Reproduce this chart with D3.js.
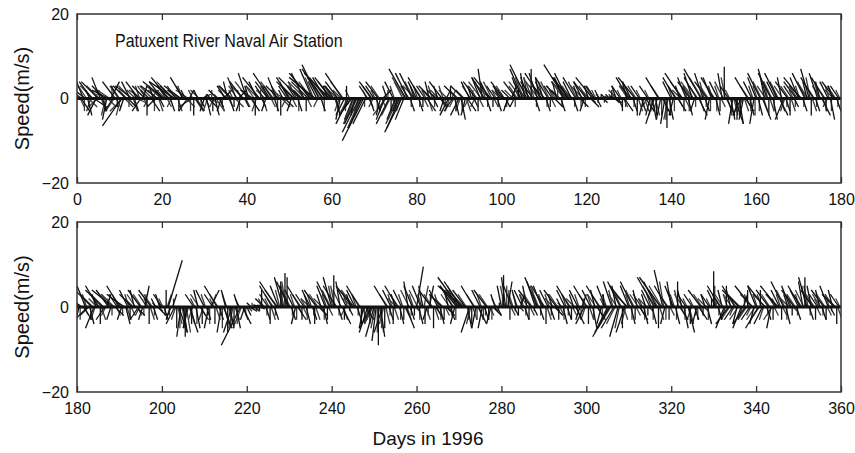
<!DOCTYPE html>
<html>
<head>
<meta charset="utf-8">
<script src="https://cdn.jsdelivr.net/npm/d3@7"></script>
<style>
  body { margin: 0; background: #fff; }
  text { font-family: Arial, "Liberation Sans", sans-serif; fill: #111; }
</style>
</head>
<body>
<svg id="chart" width="855" height="453"></svg>
<script>
// wind sticks, [u, v] in m/s
// main sticks every 12 h from 00h, filler sticks every 12 h from 06h
const stepDays = 0.5;
const speedTop = [
  [-1,3],[-3,4],[2,-3],[-2,5],[-4,3],[1,-4],[-1,2],[-3,4],[3,-2],[-2,-4],
  [-4,4],[-2,5],[1,-3],[-3,3],[-1,-5],[-4,2],[2,4],[-2,-3],[-3,4],[0,-2],
  [-2,3],[-4.5,-6.5],[-1,-3],[-3,3],[2,-2],[-2,4],[-4,3],[1,-3],[-1,2],[-3,4],
  [-2,-3],[1,3],[-3,3],[0,-4],[-2,2],[2,-3],[-1,3],[-2,-2],[-4,3],[1,-2],
  [-3,4],[-5,4],[-2,3],[-4,5],[1,-3],[-3,3],[-6,4],[-2,2],[0,-3],[-4,3],
  [-3,5],[-1,2],[-2,-3],[1,2],[-3,-2],[0,-4],[2,-3],[-1,2],[1,-2],[2,1],
  [-1,-3],[1,-4],[2,-2],[-1,1],[0,-3],[1,-4],[-2,2],[1,-2],[-1,-3],[2,2],
  [-2,3],[-1,4],[1,-3],[-3,3],[0,-2],[-2,5],[2,2],[-1,-3],[-3,4],[1,-2],
  [-2,6],[-1,3],[2,-3],[-3,2],[0,-4],[-2,4],[-4,5],[1,-2],[-2,3],[-1,-3],
  [-3,4],[-4,6],[-2,3],[1,-3],[-2,5],[-3,3],[0,-4],[-1,2],[2,-2],[-2,3],
  [-3,5],[-1,-3],[-4,4],[-2,3],[1,-3],[-5,5],[-2,2],[-3,6],[0,-3],[-4,4],
  [-5,6],[-3,7],[-6,5],[-2,4],[-4,8],[1,-3],[-5,7],[-3,5],[-1,3],[-6,6],
  [-4,5],[-2,3],[1,-4],[-3,4],[-1,-5],[-4,6],[-2,-4],[0,3],[-3,-6],[-2,-3],
  [-2,-5],[-1,-4],[-3,-6],[-4,-8],[-3,-7],[-5,-10],[-3,-6],[-2,3],[1,-3],[-3,4],
  [-2,3],[1,-3],[-3,4],[-1,-4],[2,2],[-2,-5],[-1,3],[-3,-6],[0,-3],[-2,4],
  [-2,-5],[-1,-3],[-3,-7],[-4,-8],[-2,-5],[-4,7],[-3,6],[1,-3],[-3,6],[-1,3],
  [-2,4],[1,-3],[-3,5],[0,-2],[-2,3],[2,-3],[-1,4],[-3,3],[1,-2],[-2,2],
  [-1,3],[2,-2],[-3,4],[-1,-3],[1,2],[-2,-4],[0,3],[-2,-3],[1,-4],[-3,3],
  [-2,-4],[1,-5],[-3,3],[-1,-4],[2,-3],[-2,4],[-1,3],[1,-2],[-3,4],[0,-3],
  [-2,5],[-1,7],[-3,5],[1,-3],[-2,4],[-4,5],[0,-2],[-2,3],[1,-3],[-1,2],
  [-2,3],[-3,4],[1,-2],[-1,-3],[-2,2],[1,3],[-1,-2],[-3,4],[0,2],[-2,5],
  [-3,7],[-1,6],[-4,8],[-2,5],[0,7],[-3,4],[1,-3],[-2,6],[-1,5],[-4,6],
  [-2,4],[1,-3],[-3,5],[0,-2],[-2,3],[2,-2],[-1,4],[-3,3],[1,-3],[-2,5],
  [-5,8],[-3,6],[-4,5],[-2,4],[1,-3],[-3,5],[-1,3],[2,-2],[-2,4],[-1,-3],
  [-3,4],[-1,3],[2,-2],[-4,5],[-2,3],[1,-2],[-1,2],[0,1],[1,-1],[-1,1],
  [1,0.5],[-1,1],[0,2],[2,-1],[-1,3],[1,-2],[-2,3],[0,-3],[2,-3],[-1,4],
  [-3,5],[-2,4],[1,-3],[-4,5],[0,-4],[-2,3],[1,-3],[-1,-4],[2,-3],[-2,3],
  [-1,-4],[1,-5],[-2,-6],[0,-4],[-3,5],[-1,-5],[2,-4],[-1,-6],[0,-7],[1,-5],
  [-2,4],[-1,-4],[-3,5],[2,-3],[-1,3],[-4,6],[0,-3],[-2,5],[1,-4],[-3,4],
  [-2,6],[-1,-3],[-3,5],[2,-4],[-4,7],[-2,6],[1,-3],[-3,4],[-1,-5],[-2,5],
  [-3,5],[1,-4],[-2,4],[0,-3],[-1,6],[0,7.5],[2,-4],[-2,3],[1,-5],[-1,-6],
  [2,-6],[0,-5],[1,-6],[-2,-4],[-1,-5],[2,-3],[-3,5],[1,-4],[-2,4],[-1,-6],
  [-2,5],[1,-4],[-3,6],[2,-5],[-1,5],[-2,7],[0,-4],[-3,6],[1,-5],[-2,4],
  [-3,6],[2,-4],[-1,5],[-2,-5],[1,-3],[-3,4],[0,-4],[-2,3],[1,-2],[-3,4],
  [-2,5],[-4,5],[1,-3],[-3,6],[-1,4],[-2,7],[0,-4],[-3,5],[1,-3],[-2,6],
  [-1,4],[2,-4],[-3,5],[0,-3],[-2,4],[1,-5],[-1,3],[-3,4],[1,-3],[-2,3]
];
const fillTop = [
  [-2,2],[1,-2],[-3,2],[0,-3],[-2,3],[2,-2],[-1,-3],[-3,3],[1,2],[-2,-2],
  [-3,3],[1,-3],[-2,2],[-1,-4],[2,-2],[-3,2],[0,3],[-2,-3],[1,-2],[-2,3],
  [-1,-4],[-3,-3],[2,-2],[-2,2],[0,-2],[-3,3],[1,-3],[-2,2],[2,-1],[-1,3],
  [-3,2],[1,-2],[-2,3],[-1,-2],[2,2],[-3,3],[0,-3],[-2,2],[1,-3],[-2,2],
  [-4,3],[-2,2],[1,-2],[-3,3],[-1,-2],[-4,4],[-2,3],[1,-3],[-3,2],[-1,3],
  [-2,3],[2,-2],[-3,2],[0,-3],[-1,2],[2,-3],[1,-2],[-2,2],[0,-2],[1,1],
  [1,-2],[-1,-3],[2,-1],[0,2],[-1,-2],[2,-3],[-1,1],[1,-3],[0,-2],[-1,2],
  [-2,2],[1,-2],[-3,3],[-1,2],[2,-2],[-2,3],[0,-3],[-1,2],[-3,3],[1,-2],
  [-3,4],[-2,2],[1,-2],[-2,3],[-1,-3],[-3,3],[0,2],[1,-3],[-2,2],[-1,3],
  [-2,3],[1,-2],[-3,4],[-1,2],[0,-3],[-2,3],[2,-2],[-3,2],[-1,-2],[-2,4],
  [-2,3],[1,-2],[-3,3],[-2,4],[0,-3],[-3,3],[-1,2],[-4,4],[1,-2],[-2,3],
  [-3,4],[-2,5],[-4,3],[-1,-2],[-3,5],[-2,3],[0,-3],[-4,5],[-2,2],[-3,4],
  [-2,3],[1,-3],[-3,3],[-1,-3],[-2,2],[-3,4],[0,-3],[-2,-4],[-1,2],[-3,-4],
  [-2,-5],[-3,-6],[-1,-4],[-3,-7],[-2,-3],[0,-2],[-1,2],[1,-2],[-2,3],[-1,-2],
  [-1,2],[0,-3],[-2,3],[1,-2],[-1,-3],[-3,-4],[0,2],[-2,-4],[1,-2],[-1,3],
  [-2,-5],[-3,-6],[-1,-3],[-2,4],[-3,5],[-1,3],[-2,3],[0,-2],[-2,4],[-3,3],
  [-1,3],[0,-2],[-2,3],[1,-2],[-1,2],[1,-3],[-2,2],[-1,3],[0,-2],[-1,1],
  [-2,2],[1,-2],[-1,3],[0,-2],[-2,2],[-1,-3],[1,2],[-1,-2],[0,-3],[-2,2],
  [-1,-3],[0,-3],[-2,2],[1,-3],[-1,-2],[-2,3],[0,2],[-1,-2],[-2,3],[1,-2],
  [-3,4],[-2,4],[-1,3],[0,-2],[-3,3],[-2,4],[1,-2],[-1,2],[0,-2],[-2,2],
  [-1,2],[-2,3],[0,-2],[-1,-2],[1,2],[-2,2],[0,-2],[-2,3],[-1,2],[-3,4],
  [-2,5],[-3,4],[-1,5],[-3,4],[-2,5],[-1,3],[0,-2],[-3,4],[-2,3],[-1,4],
  [-3,3],[0,-2],[-2,4],[1,-2],[-1,2],[-2,3],[0,3],[-2,2],[0,-2],[-3,4],
  [-3,5],[-4,4],[-2,3],[-3,3],[0,-2],[-2,4],[-1,2],[0,-2],[-3,3],[0,-2],
  [-2,3],[-2,2],[1,-1],[-2,3],[-1,2],[0,-1],[-1,1],[1,0.5],[0,-1],[1,0.5],
  [-1,0.5],[1,1],[-1,1],[1,-1],[-2,2],[0,-1],[-1,2],[1,-2],[0,-2],[-2,3],
  [-2,3],[-3,3],[0,-2],[-2,3],[1,-3],[-1,2],[0,-2],[1,-3],[-1,-2],[-1,2],
  [0,-3],[-1,-4],[1,-4],[-1,-3],[-2,3],[0,-4],[1,-3],[0,-5],[-1,-5],[0,-4],
  [-1,3],[0,-3],[-2,3],[1,-2],[-2,2],[-3,4],[1,-2],[-1,3],[0,-3],[-2,3],
  [-3,4],[0,-2],[-2,3],[1,-3],[-3,5],[-1,4],[0,-2],[-2,3],[0,-3],[-1,3],
  [-2,3],[0,-3],[-1,3],[1,-2],[-2,4],[-1,5],[1,-3],[-1,2],[0,-4],[1,-4],
  [1,-4],[-1,-4],[0,-4],[-1,-3],[1,-3],[1,-2],[-2,3],[0,-3],[-1,3],[0,-4],
  [-1,3],[0,-3],[-2,4],[1,-3],[-2,3],[-1,4],[1,-3],[-2,4],[0,-3],[-1,3],
  [-2,4],[1,-3],[-2,3],[-1,-3],[0,-2],[-2,3],[1,-3],[-1,2],[0,-2],[-2,3],
  [-1,3],[-3,3],[0,-2],[-2,4],[-2,3],[-1,5],[1,-3],[-2,3],[0,-2],[-1,4],
  [-2,3],[1,-3],[-2,3],[-1,-2],[-1,3],[0,-3],[-2,2],[-2,3],[0,-2],[-1,2]
];
const speedBottom = [
  [-3,4],[-1,-4],[-4,3],[2,-3],[-2,5],[-3,-3],[1,-4],[-4,4],[-2,-5],[-1,3],
  [-3,5],[0,-4],[-4,4],[-2,-3],[1,3],[-3,4],[-1,-3],[-5,4],[2,-2],[-2,3],
  [-3,5],[-1,-3],[-4,3],[1,-4],[-2,4],[0,-3],[-3,3],[-1,4],[2,-2],[-2,-3],
  [-3,4],[-1,-3],[1,5],[-2,3],[0,-4],[-3,4],[1,-3],[-1,2],[2,-2],[-1,3],
  [-2,3],[1,-3],[0,4],[3.3,11],[-1,-3],[1,3],[-2,-4],[0,-5],[2,-6],[-1,-7],
  [1,-6],[0,-7],[-1,-5],[2,-6],[0,-4],[-2,3],[1,-5],[-1,4],[2,-3],[0,-4],
  [-2,4],[1,-3],[-1,-5],[2,4],[-2,3],[0,-4],[-3,5],[1,-3],[-1,-6],[2,-5],
  [-1,4],[0,-6],[1,-5],[-2,-6],[0,-4],[1,-5],[-1,3],[-4.5,-9],[2,-4],[-1,-3],
  [1,-2],[2,-1],[-1,1],[2,0.5],[1,-1],[-1,0.5],[0,-1],[0,4],[-2,2],[1,-3],
  [-2,3],[0,-4],[-3,5],[1,-3],[-4,6],[-2,5],[0,6],[-2,7],[0,8],[0,7],
  [-3,6],[1,-3],[-2,4],[-1,-4],[2,-3],[-3,5],[0,-3],[-2,3],[1,-4],[-1,3],
  [-2,4],[1,-3],[0,-4],[-3,4],[2,-2],[-1,3],[1,-4],[-2,5],[0,-3],[-3,6],
  [-2,7],[0,7.5],[-3,5],[1,-3],[-1,6],[2,-4],[0,-3],[-2,4],[1,-2],[-1,3],
  [-4,5],[-2,4],[1,-3],[-3,5],[0,-4],[-1,-5],[2,-3],[-2,-6],[0,-4],[-3,-5],
  [-2,-7],[-1,-8],[0,-9],[1,-7],[-2,-6],[0,-5],[-3,5],[1,-3],[-2,4],[0,-4],
  [-1,3],[-3,5],[1,-4],[-2,4],[0,-3],[2,-5],[-1,6],[1,-3],[-2,5],[0,-2],
  [1.6,9.5],[1,-4],[-2,5],[-1,5],[0,-4],[-1,-3],[1,5],[-3,4],[0,-5],[2,-3],
  [-2,4],[1,-4],[-3,3],[0,-3],[2,-2],[-1,4],[1,-3],[-3,5],[-1,-4],[-4,5],
  [-5,7],[-4,6],[-6,5],[-3,4],[1,-5],[-2,-6],[0,-4],[-3,5],[-1,-5],[2,-4],
  [-2,4],[-1,-5],[1,-3],[-3,4],[0,-3],[-1,-4],[2,-2],[-1,3],[1,-2],[0,1],
  [-1,5],[0,7.5],[-1,7],[1,6],[0,-3],[-2,5],[1,-2],[-1,4],[0,-2],[1,3],
  [-2,4],[1,-3],[-1,5],[0,-3],[-3,4],[1,-2],[-2,6],[-3,7],[1,-3],[-2,5],
  [-3,5],[0,-4],[-2,4],[1,-3],[-1,3],[2,-2],[-3,4],[0,-3],[-1,2],[1,-4],
  [-2,4],[1,-3],[-3,5],[0,-3],[-1,3],[2,-4],[-2,4],[-1,-3],[1,3],[-2,-4],
  [-3,5],[0,-4],[-2,4],[1,-5],[-1,4],[2,-3],[-3,5],[-1,-4],[0,3],[-2,5],
  [-3,-6],[-4,-7],[-2,6],[-3,-5],[-1,5],[-2,-7],[-3,6],[0,-5],[-2,-6],[-4,5],
  [-2,5],[1,-4],[-3,6],[0,-3],[-1,4],[2,-3],[-2,3],[1,-4],[-1,3],[0,-2],
  [-2,4],[1,-4],[-4,7],[-3,6],[0,-5],[-5,7],[-2,8.7],[-1,-4],[-3,5],[0,-3],
  [-1,6],[-2,5],[1,-4],[0,6],[2,-3],[-1,4],[1,-5],[-2,3],[1.5,-6],[0,-4],
  [-2,3],[1,-3],[-1,-4],[2,-3],[-3,4],[0,-2],[-1,3],[1,-4],[-2,3],[0,2],
  [0,8.4],[-2,4],[1,-3],[-3,5],[-1,4],[-2,-5],[0,5],[-3,-4],[-1,4],[-2,-3],
  [-3,5],[-1,-4],[-4,4],[-2,-5],[1,3],[-3,-4],[0,4],[-2,-3],[-4,5],[-1,-4],
  [-2,5],[-3,-5],[0,4],[-2,-4],[-4,5],[1,-3],[-3,4],[-1,-5],[0,-3],[-2,3],
  [-4,5],[-2,4],[0,-3],[-3,6],[1,-4],[-1,3],[-2,5],[0,-2],[-3,4],[1,-3],
  [-2,4],[-3,5],[-1,6],[0,7],[-2,7],[1,-3],[-1,5],[-3,4],[0,-3],[-2,3],
  [-1,4],[1,-3],[-3,4],[0,-3],[-2,5],[1,-2],[-1,4],[-3,3],[0,-4],[-2,3]
];
const fillBottom = [
  [-2,3],[0,-3],[-3,2],[1,-2],[-1,3],[-2,-2],[0,-3],[-3,3],[-1,-3],[-2,2],
  [-2,3],[1,-3],[-3,3],[-1,-2],[0,2],[-2,3],[0,-2],[-3,3],[1,-2],[-1,2],
  [-2,3],[0,-2],[-3,2],[1,-3],[-1,3],[1,-2],[-2,2],[-2,3],[1,-2],[-1,-2],
  [-2,3],[0,-2],[0,3],[-1,2],[1,-3],[-2,3],[0,-2],[-1,1],[1,-1],[-1,2],
  [-1,2],[0,-2],[1,3],[0,-2],[-1,-2],[0,2],[-1,-3],[1,-4],[0,-5],[1,-5],
  [0,-5],[1,-6],[-1,-4],[1,-4],[-1,-3],[-1,2],[0,-4],[-2,3],[1,-2],[-1,-3],
  [-1,3],[0,-2],[0,-4],[1,3],[-1,2],[1,-3],[-2,3],[0,-2],[0,-5],[1,-4],
  [-1,3],[1,-4],[0,-4],[-1,-5],[1,-3],[0,-4],[-1,2],[-2,-5],[1,-3],[0,-2],
  [1,-1],[1,-0.5],[0,1],[1,0.5],[0,-1],[-1,0.5],[1,-0.5],[-1,2],[-1,1],[0,-2],
  [-1,2],[1,-3],[-2,3],[0,-2],[-3,4],[-1,4],[0,5],[-1,5],[-1,6],[-2,5],
  [-2,4],[0,-2],[-1,3],[0,-3],[1,-2],[-2,3],[1,-2],[-1,2],[0,-3],[-2,2],
  [-1,3],[0,-2],[1,-3],[-2,3],[1,-1],[-2,2],[0,-3],[-1,3],[1,-2],[-2,4],
  [-1,5],[-1,5],[-2,3],[0,-2],[-2,4],[1,-3],[-1,-2],[-1,3],[0,-1],[-2,2],
  [-3,4],[-1,3],[0,-2],[-2,3],[1,-3],[0,-4],[1,-2],[-1,-4],[-1,-3],[-2,-4],
  [-1,-5],[0,-6],[1,-6],[0,-5],[-1,-4],[1,-4],[-2,3],[0,-2],[-1,3],[1,-3],
  [-2,2],[-2,3],[0,-3],[-1,3],[1,-2],[1,-3],[-2,4],[0,-2],[-1,3],[1,-1],
  [-2,4],[0,-3],[-1,3],[1,5],[1,-3],[0,-2],[0,3],[-2,3],[1,-3],[1,-2],
  [-1,3],[0,-3],[-2,2],[1,-2],[1,-1],[-2,3],[0,-2],[-2,3],[0,-3],[-3,4],
  [-3,5],[-3,4],[-4,4],[-2,3],[0,-3],[-1,-4],[1,-3],[-2,3],[0,-3],[1,-3],
  [-1,3],[0,-3],[0,-2],[-2,3],[1,-2],[0,-3],[1,-1],[-1,2],[0,-1],[1,0.5],
  [0,3],[-1,5],[0,5],[0,4],[1,-2],[-1,3],[0,-1],[-1,3],[1,-1],[0,2],
  [-1,3],[0,-2],[-2,3],[1,-2],[-2,3],[0,-1],[-1,4],[-2,5],[0,-2],[-1,3],
  [-2,3],[1,-3],[-1,3],[0,-2],[-2,2],[1,-1],[-2,3],[1,-2],[-1,1],[0,-3],
  [-1,3],[0,-2],[-2,3],[1,-2],[-2,2],[1,-3],[-1,3],[0,-2],[0,2],[-1,-3],
  [-2,3],[1,-3],[-1,3],[0,-3],[-2,3],[1,-2],[-2,3],[0,-3],[-1,2],[-1,3],
  [-2,-4],[-3,-5],[-1,4],[-2,-4],[-2,3],[-1,-5],[-2,4],[1,-3],[-1,-4],[-3,3],
  [-1,3],[0,-3],[-2,4],[1,-2],[-2,3],[1,-2],[-1,2],[0,-3],[-2,2],[1,-1],
  [-1,3],[0,-3],[-3,5],[-2,4],[1,-3],[-3,5],[-1,6],[0,-3],[-2,3],[1,-2],
  [-1,4],[-1,3],[0,-3],[-1,4],[1,-2],[-2,3],[0,-3],[-1,2],[1,-4],[-1,-3],
  [-1,2],[0,-2],[0,-3],[1,-2],[-2,3],[1,-1],[-2,2],[0,-3],[-1,2],[1,1],
  [0,5],[-1,3],[0,-2],[-2,3],[-2,3],[-1,-3],[-1,3],[-2,-3],[-2,3],[-1,-2],
  [-2,3],[-2,-3],[-3,3],[-1,-3],[0,2],[-2,-3],[-1,3],[-1,-2],[-3,3],[-2,-3],
  [-1,3],[-2,-3],[-1,3],[-1,-3],[-3,3],[0,-2],[-2,3],[-2,-3],[1,-2],[-1,2],
  [-3,3],[-1,3],[1,-2],[-2,4],[0,-3],[-2,2],[-1,3],[1,-1],[-2,3],[0,-2],
  [-1,3],[-2,3],[-2,4],[-1,5],[-1,5],[0,-2],[-2,3],[-2,3],[1,-2],[-1,2],
  [-2,3],[0,-2],[-2,3],[1,-2],[-1,3],[0,-1],[-2,3],[-2,2],[1,-3],[-1,2]
];
const xTicksTop = [0, 20, 40, 60, 80, 100, 120, 140, 160, 180];
const xTicksBottom = [180, 200, 220, 240, 260, 280, 300, 320, 340, 360];
const yTicks = [-20, 0, 20];

const svg = d3.select('#chart');
const left = 77, right = 841;

function drawSticks(g, data, x, y, start, color) {
    g.selectAll(null)
        .data(data)
        .enter()
        .append('line')
        .attr('x1', (d, i) => x(start + i * stepDays))
        .attr('y1', y(0))
        .attr('x2', (d, i) => x(start + i * stepDays + d[0]))
        .attr('y2', d => y(d[1]))
        .attr('stroke', color)
        .attr('stroke-width', 1.3);
}

function panel(data, filler, startDay, ticks, top, bottom, id) {
    const x = d3.scaleLinear().domain([startDay, startDay + 180]).range([left, right]);
    const y = d3.scaleLinear().domain([-20, 20]).range([bottom, top]);

    svg.append('clipPath').attr('id', id)
        .append('rect')
        .attr('x', left).attr('y', top)
        .attr('width', right - left).attr('height', bottom - top);

    const g = svg.append('g').attr('clip-path', `url(#${id})`);

    drawSticks(g, filler, x, y, startDay + 0.25, '#3a3a3a');
    drawSticks(g, data, x, y, startDay, '#111');

    g.append('line')
        .attr('x1', left).attr('x2', right)
        .attr('y1', y(0)).attr('y2', y(0))
        .attr('stroke', '#111')
        .attr('stroke-width', 3);

    const xAxis = d3.axisBottom(x).tickValues(ticks).tickSizeInner(-6).tickSizeOuter(0).tickPadding(11);
    const xTop = d3.axisTop(x).tickValues(ticks).tickSizeInner(-6).tickSizeOuter(0).tickFormat('');
    const yAxis = d3.axisLeft(y).tickValues(yTicks).tickSizeInner(0).tickSizeOuter(0).tickPadding(8);

    const ax = svg.append('g').attr('transform', `translate(0,${bottom})`).call(xAxis);
    svg.append('g').attr('transform', `translate(0,${top})`).call(xTop);
    const ay = svg.append('g').attr('transform', `translate(${left},0)`).call(yAxis);

    svg.selectAll('.domain').remove();
    svg.selectAll('.tick line').attr('stroke', '#333').attr('stroke-width', 1.3);
    ax.selectAll('text').style('font-size', '16px');
    ay.selectAll('text').style('font-size', '16px');

    svg.append('rect')
        .attr('x', left).attr('y', top)
        .attr('width', right - left).attr('height', bottom - top)
        .attr('fill', 'none')
        .attr('stroke', '#333')
        .attr('stroke-width', 1.5);

    svg.append('text')
        .attr('transform', `translate(29,${(top + bottom) / 2}) rotate(-90)`)
        .attr('text-anchor', 'middle')
        .style('font-size', '20px')
        .text('Speed(m/s)');
}

panel(speedTop, fillTop, 0, xTicksTop, 14, 183, 'clipTop');
panel(speedBottom, fillBottom, 180, xTicksBottom, 222, 392, 'clipBottom');

svg.append('text')
    .attr('transform', 'translate(115,47) scale(1,1.15)')
    .style('font-size', '16px')
    .text('Patuxent River Naval Air Station');

svg.append('text')
    .attr('x', 428).attr('y', 445)
    .attr('text-anchor', 'middle')
    .style('font-size', '19px')
    .text('Days in 1996');
</script>
</body>
</html>
